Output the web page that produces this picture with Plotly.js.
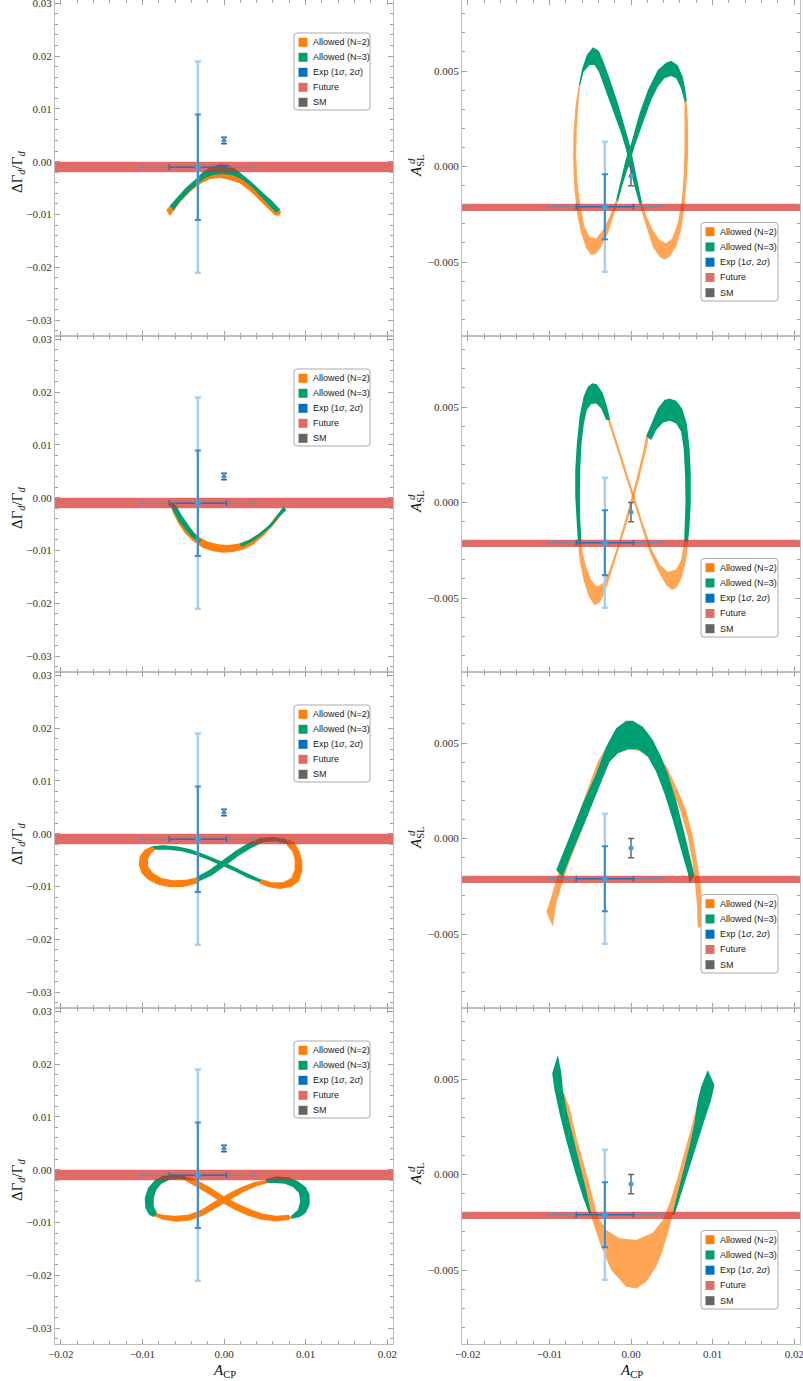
<!DOCTYPE html>
<html><head><meta charset="utf-8">
<script src="https://cdn.plot.ly/plotly-3.0.1.min.js"></script>
<style>body{margin:0;background:#fff}</style>
</head><body>
<div id="chart" style="width:803px;height:1381px"></div>
<script>
// ---------------- DATA ----------------
// Axis ranges
const xRange = [-0.0207, 0.0207];
const yRangeDG = [-0.0330, 0.0306];
const yRangeASL = [-0.00887, 0.00872];

// Experimental point (A_CP, ΔΓ/Γ) and (A_CP, A_SL), 1σ and 2σ half-widths
const expX = -0.0032, expErrX = [0.0035, 0.0070];
const expY_DG = -0.00105, expErrY_DG = [0.0100, 0.0200];
const expY_ASL = -0.0021, expErrY_ASL = [0.0017, 0.0034];
// SM prediction
const smX = 0.0, smY_DG = 0.0040, smErr_DG = 0.0006;
const smY_ASL = -0.0005, smErr_ASL = 0.0005;
// Future sensitivity bands
const future_DG = [-0.0020, 0.0000];
const future_ASL = [-0.00233, -0.00195];

// Allowed regions, panel 1 (row 1, ΔΓ/Γ)
const p1_orange = [[-0.00706,-0.00915],[-0.00604,-0.00726],[-0.00481,-0.00524],[-0.00359,-0.00379],[-0.00237,-0.00271],[-0.00114,-0.00208],[0.00008,-0.00189],[0.00131,-0.00221],[0.00253,-0.00316],[0.00375,-0.00461],[0.00498,-0.00631],[0.00600,-0.00802],[0.00702,-0.00947],[0.00673,-0.01023],[0.00620,-0.01010],[0.00518,-0.00865],[0.00416,-0.00701],[0.00314,-0.00549],[0.00192,-0.00410],[0.00069,-0.00347],[-0.00053,-0.00303],[-0.00175,-0.00335],[-0.00277,-0.00410],[-0.00400,-0.00549],[-0.00522,-0.00739],[-0.00624,-0.00947],[-0.00665,-0.01029]];
const p1_green = [[-0.00665,-0.00840],[-0.00563,-0.00663],[-0.00461,-0.00486],[-0.00359,-0.00347],[-0.00257,-0.00189],[-0.00155,-0.00095],[-0.00053,-0.00051],[0.00049,-0.00063],[0.00131,-0.00126],[0.00233,-0.00253],[0.00355,-0.00410],[0.00477,-0.00587],[0.00579,-0.00726],[0.00661,-0.00865],[0.00690,-0.00903],[0.00640,-0.00966],[0.00539,-0.00802],[0.00437,-0.00631],[0.00335,-0.00473],[0.00233,-0.00347],[0.00110,-0.00259],[-0.00012,-0.00234],[-0.00135,-0.00253],[-0.00237,-0.00316],[-0.00339,-0.00442],[-0.00441,-0.00587],[-0.00543,-0.00758],[-0.00616,-0.00915]];

// panel 2 (row 1, A_SL)
const p2_orange1 = [[-0.00639,0.00427],[-0.00680,0.00313],[-0.00704,0.00174],[-0.00708,0.00034],[-0.00696,-0.00106],[-0.00663,-0.00245],[-0.00610,-0.00350],[-0.00549,-0.00428],[-0.00488,-0.00463],[-0.00426,-0.00455],[-0.00365,-0.00420],[-0.00284,-0.00350],[-0.00202,-0.00245],[-0.00161,-0.00184],[-0.00182,-0.00175],[-0.00263,-0.00263],[-0.00345,-0.00332],[-0.00426,-0.00376],[-0.00508,-0.00367],[-0.00569,-0.00315],[-0.00618,-0.00210],[-0.00659,-0.00071],[-0.00671,0.00069],[-0.00663,0.00209],[-0.00643,0.00331],[-0.00622,0.00427]];
const p2_orange2 = [[0.00683,0.00340],[0.00700,0.00209],[0.00700,0.00069],[0.00683,-0.00071],[0.00655,-0.00210],[0.00614,-0.00332],[0.00553,-0.00420],[0.00471,-0.00472],[0.00410,-0.00486],[0.00349,-0.00472],[0.00267,-0.00420],[0.00186,-0.00315],[0.00137,-0.00245],[0.00104,-0.00196],[0.00137,-0.00193],[0.00194,-0.00263],[0.00267,-0.00332],[0.00349,-0.00385],[0.00430,-0.00402],[0.00504,-0.00376],[0.00573,-0.00298],[0.00622,-0.00175],[0.00647,-0.00036],[0.00655,0.00104],[0.00655,0.00226],[0.00655,0.00340]];
const p2_green1 = [[-0.00639,0.00427],[-0.00598,0.00514],[-0.00541,0.00584],[-0.00467,0.00624],[-0.00394,0.00606],[-0.00337,0.00549],[-0.00263,0.00462],[-0.00161,0.00331],[-0.00059,0.00182],[0.00002,0.00086],[0.00043,-0.00001],[0.00096,-0.00106],[0.00137,-0.00193],[0.00104,-0.00196],[0.00043,-0.00106],[-0.00018,-0.00001],[-0.00059,0.00086],[-0.00120,0.00174],[-0.00222,0.00296],[-0.00325,0.00418],[-0.00394,0.00497],[-0.00447,0.00532],[-0.00508,0.00532],[-0.00581,0.00497],[-0.00622,0.00427]];
const p2_green2 = [[-0.00182,-0.00175],[-0.00133,-0.00079],[-0.00067,0.00034],[0.00002,0.00121],[0.00104,0.00278],[0.00206,0.00400],[0.00328,0.00505],[0.00430,0.00544],[0.00492,0.00554],[0.00573,0.00531],[0.00634,0.00470],[0.00667,0.00400],[0.00683,0.00340],[0.00655,0.00340],[0.00614,0.00409],[0.00553,0.00462],[0.00492,0.00474],[0.00410,0.00462],[0.00328,0.00418],[0.00247,0.00348],[0.00145,0.00226],[0.00043,0.00104],[-0.00018,0.00017],[-0.00100,-0.00088],[-0.00161,-0.00184]];

// panel 3 (row 2, ΔΓ/Γ)
const p3_orange = [[-0.00657,-0.00133],[-0.00624,-0.00290],[-0.00563,-0.00480],[-0.00481,-0.00669],[-0.00379,-0.00827],[-0.00257,-0.00953],[-0.00135,-0.01016],[-0.00012,-0.01042],[0.00110,-0.01029],[0.00233,-0.00985],[0.00355,-0.00890],[0.00477,-0.00732],[0.00600,-0.00530],[0.00702,-0.00322],[0.00755,-0.00227],[0.00730,-0.00177],[0.00641,-0.00354],[0.00539,-0.00543],[0.00416,-0.00701],[0.00294,-0.00808],[0.00171,-0.00871],[0.00049,-0.00896],[-0.00073,-0.00884],[-0.00196,-0.00833],[-0.00298,-0.00751],[-0.00379,-0.00638],[-0.00461,-0.00492],[-0.00543,-0.00322],[-0.00604,-0.00133]];
const p3_green1 = [[-0.00632,-0.00088],[-0.00583,-0.00152],[-0.00522,-0.00322],[-0.00441,-0.00511],[-0.00359,-0.00682],[-0.00277,-0.00808],[-0.00298,-0.00859],[-0.00379,-0.00764],[-0.00469,-0.00619],[-0.00551,-0.00448],[-0.00624,-0.00259],[-0.00665,-0.00133]];
const p3_green2 = [[0.00192,-0.00871],[0.00314,-0.00795],[0.00437,-0.00669],[0.00559,-0.00511],[0.00641,-0.00354],[0.00702,-0.00215],[0.00730,-0.00164],[0.00763,-0.00240],[0.00681,-0.00354],[0.00579,-0.00543],[0.00457,-0.00713],[0.00335,-0.00840],[0.00212,-0.00934]];

// panel 4 (row 2, A_SL)
const p4_orange1 = [[-0.00651,-0.00205],[-0.00630,-0.00301],[-0.00581,-0.00406],[-0.00516,-0.00493],[-0.00447,-0.00537],[-0.00386,-0.00525],[-0.00324,-0.00476],[-0.00243,-0.00371],[-0.00141,-0.00231],[-0.00027,-0.00074],[0.00096,0.00118],[0.00186,0.00275],[0.00218,0.00345],[0.00186,0.00348],[0.00153,0.00275],[0.00063,0.00118],[-0.00059,-0.00074],[-0.00169,-0.00231],[-0.00271,-0.00362],[-0.00345,-0.00423],[-0.00418,-0.00440],[-0.00488,-0.00406],[-0.00549,-0.00336],[-0.00590,-0.00266],[-0.00606,-0.00205]];
const p4_orange2 = [[0.00700,-0.00205],[0.00675,-0.00301],[0.00626,-0.00388],[0.00561,-0.00444],[0.00504,-0.00458],[0.00430,-0.00432],[0.00328,-0.00353],[0.00226,-0.00258],[0.00104,-0.00092],[-0.00018,0.00074],[-0.00141,0.00240],[-0.00243,0.00380],[-0.00284,0.00432],[-0.00255,0.00432],[-0.00214,0.00380],[-0.00112,0.00240],[0.00010,0.00074],[0.00133,-0.00092],[0.00259,-0.00249],[0.00357,-0.00327],[0.00451,-0.00362],[0.00553,-0.00350],[0.00614,-0.00301],[0.00651,-0.00205]];
const p4_green1 = [[-0.00255,0.00432],[-0.00292,0.00502],[-0.00345,0.00572],[-0.00418,0.00620],[-0.00475,0.00624],[-0.00528,0.00606],[-0.00581,0.00554],[-0.00630,0.00449],[-0.00663,0.00310],[-0.00683,0.00170],[-0.00683,0.00031],[-0.00671,-0.00092],[-0.00651,-0.00205],[-0.00606,-0.00205],[-0.00622,-0.00092],[-0.00626,0.00031],[-0.00622,0.00170],[-0.00606,0.00310],[-0.00577,0.00414],[-0.00541,0.00484],[-0.00488,0.00516],[-0.00426,0.00519],[-0.00365,0.00493],[-0.00304,0.00432]];
const p4_green2 = [[0.00186,0.00348],[0.00247,0.00414],[0.00328,0.00493],[0.00410,0.00537],[0.00471,0.00545],[0.00553,0.00533],[0.00626,0.00493],[0.00683,0.00414],[0.00716,0.00292],[0.00732,0.00153],[0.00732,-0.00004],[0.00716,-0.00127],[0.00700,-0.00205],[0.00651,-0.00205],[0.00663,-0.00109],[0.00667,-0.00004],[0.00663,0.00135],[0.00647,0.00275],[0.00614,0.00371],[0.00553,0.00414],[0.00471,0.00428],[0.00390,0.00418],[0.00308,0.00380],[0.00247,0.00327]];

// panel 5 (row 3, ΔΓ/Γ)
const p5_orange1 = [[-0.00889,-0.00240],[-0.00971,-0.00303],[-0.01032,-0.00429],[-0.01044,-0.00587],[-0.01012,-0.00745],[-0.00930,-0.00871],[-0.00808,-0.00966],[-0.00665,-0.01016],[-0.00502,-0.01010],[-0.00339,-0.00947],[-0.00298,-0.00903],[-0.00318,-0.00821],[-0.00461,-0.00871],[-0.00624,-0.00884],[-0.00767,-0.00840],[-0.00869,-0.00745],[-0.00930,-0.00619],[-0.00930,-0.00480],[-0.00889,-0.00366],[-0.00828,-0.00290]];
const p5_orange2 = [[0.00783,-0.00101],[0.00865,-0.00177],[0.00926,-0.00335],[0.00959,-0.00524],[0.00959,-0.00713],[0.00918,-0.00903],[0.00824,-0.01010],[0.00681,-0.01048],[0.00539,-0.01010],[0.00428,-0.00934],[0.00457,-0.00859],[0.00579,-0.00922],[0.00722,-0.00922],[0.00824,-0.00840],[0.00865,-0.00682],[0.00865,-0.00480],[0.00836,-0.00335],[0.00771,-0.00227]];
const p5_green1 = [[-0.00889,-0.00240],[-0.00747,-0.00221],[-0.00583,-0.00240],[-0.00420,-0.00290],[-0.00257,-0.00379],[-0.00094,-0.00480],[0.00069,-0.00587],[0.00233,-0.00713],[0.00375,-0.00820],[0.00457,-0.00871],[0.00437,-0.00922],[0.00294,-0.00840],[0.00131,-0.00713],[-0.00033,-0.00600],[-0.00196,-0.00492],[-0.00359,-0.00398],[-0.00522,-0.00335],[-0.00685,-0.00303],[-0.00828,-0.00303]];
const p5_green2 = [[-0.00318,-0.00909],[-0.00155,-0.00795],[0.00008,-0.00619],[0.00171,-0.00429],[0.00335,-0.00271],[0.00477,-0.00164],[0.00641,-0.00145],[0.00796,-0.00208],[0.00763,-0.00101],[0.00600,-0.00063],[0.00457,-0.00076],[0.00314,-0.00164],[0.00151,-0.00316],[-0.00012,-0.00492],[-0.00175,-0.00682],[-0.00339,-0.00821]];

// panel 6 (row 3, A_SL)
const p6_orange = [[-0.01038,-0.00383],[-0.00989,-0.00322],[-0.00916,-0.00217],[-0.00800,-0.00060],[-0.00660,0.00110],[-0.00530,0.00260],[-0.00410,0.00400],[-0.00304,0.00480],[-0.00182,0.00533],[-0.00018,0.00542],[0.00145,0.00516],[0.00288,0.00455],[0.00439,0.00376],[0.00553,0.00271],[0.00675,0.00149],[0.00757,0.00010],[0.00810,-0.00113],[0.00847,-0.00217],[0.00871,-0.00340],[0.00887,-0.00462],[0.00818,-0.00465],[0.00806,-0.00340],[0.00781,-0.00217],[0.00749,-0.00113],[0.00696,0.00010],[0.00602,0.00149],[0.00492,0.00271],[0.00390,0.00367],[0.00267,0.00428],[0.00145,0.00455],[-0.00018,0.00467],[-0.00161,0.00446],[-0.00263,0.00402],[-0.00365,0.00307],[-0.00488,0.00167],[-0.00630,0.00010],[-0.00761,-0.00130],[-0.00855,-0.00252],[-0.00916,-0.00340],[-0.00957,-0.00462]];
const p6_green = [[-0.00916,-0.00165],[-0.00753,0.00010],[-0.00590,0.00184],[-0.00426,0.00341],[-0.00304,0.00481],[-0.00182,0.00577],[-0.00059,0.00617],[0.00022,0.00617],[0.00145,0.00586],[0.00267,0.00516],[0.00369,0.00428],[0.00451,0.00341],[0.00553,0.00201],[0.00655,0.00027],[0.00736,-0.00113],[0.00777,-0.00191],[0.00716,-0.00235],[0.00696,-0.00182],[0.00614,-0.00060],[0.00512,0.00097],[0.00410,0.00236],[0.00308,0.00350],[0.00206,0.00428],[0.00084,0.00467],[-0.00039,0.00467],[-0.00161,0.00446],[-0.00263,0.00402],[-0.00330,0.00330],[-0.00440,0.00210],[-0.00580,0.00070],[-0.00720,-0.00070],[-0.00840,-0.00200]];

// panel 7 (row 4, ΔΓ/Γ)
const p7_orange1 = [[-0.00502,-0.00114],[-0.00339,-0.00189],[-0.00175,-0.00328],[-0.00012,-0.00492],[0.00151,-0.00631],[0.00314,-0.00745],[0.00477,-0.00833],[0.00641,-0.00871],[0.00796,-0.00852],[0.00824,-0.00896],[0.00804,-0.00947],[0.00641,-0.00979],[0.00457,-0.00947],[0.00294,-0.00871],[0.00131,-0.00758],[-0.00033,-0.00619],[-0.00196,-0.00455],[-0.00359,-0.00303],[-0.00481,-0.00202]];
const p7_orange2 = [[-0.00869,-0.00871],[-0.00747,-0.00947],[-0.00583,-0.00985],[-0.00420,-0.00960],[-0.00257,-0.00871],[-0.00094,-0.00726],[0.00069,-0.00568],[0.00233,-0.00429],[0.00396,-0.00316],[0.00539,-0.00253],[0.00539,-0.00189],[0.00375,-0.00234],[0.00212,-0.00328],[0.00049,-0.00455],[-0.00114,-0.00600],[-0.00277,-0.00758],[-0.00441,-0.00852],[-0.00604,-0.00871],[-0.00747,-0.00852],[-0.00836,-0.00821]];
const p7_green1 = [[-0.00481,-0.00114],[-0.00624,-0.00076],[-0.00747,-0.00114],[-0.00849,-0.00202],[-0.00930,-0.00347],[-0.00971,-0.00537],[-0.00963,-0.00726],[-0.00918,-0.00852],[-0.00861,-0.00896],[-0.00820,-0.00821],[-0.00861,-0.00694],[-0.00861,-0.00537],[-0.00828,-0.00379],[-0.00767,-0.00265],[-0.00665,-0.00189],[-0.00543,-0.00177],[-0.00461,-0.00202]];
const p7_green2 = [[0.00510,-0.00177],[0.00641,-0.00126],[0.00783,-0.00145],[0.00906,-0.00221],[0.01000,-0.00328],[0.01049,-0.00473],[0.01049,-0.00663],[0.01000,-0.00821],[0.00926,-0.00896],[0.00824,-0.00934],[0.00824,-0.00871],[0.00906,-0.00758],[0.00934,-0.00600],[0.00918,-0.00442],[0.00845,-0.00328],[0.00743,-0.00265],[0.00620,-0.00253],[0.00526,-0.00253]];

// panel 8 (row 4, A_SL)
const p8_orange = [[-0.00916,0.00442],[-0.00834,0.00303],[-0.00732,0.00128],[-0.00630,-0.00029],[-0.00528,-0.00168],[-0.00447,-0.00273],[-0.00365,-0.00378],[-0.00243,-0.00500],[-0.00059,-0.00587],[0.00063,-0.00596],[0.00186,-0.00561],[0.00308,-0.00483],[0.00390,-0.00395],[0.00463,-0.00290],[0.00532,-0.00168],[0.00634,-0.00029],[0.00736,0.00128],[0.00818,0.00268],[0.00871,0.00372],[0.00818,0.00381],[0.00757,0.00276],[0.00675,0.00146],[0.00573,-0.00011],[0.00471,-0.00151],[0.00390,-0.00238],[0.00267,-0.00305],[0.00063,-0.00343],[-0.00141,-0.00334],[-0.00304,-0.00290],[-0.00406,-0.00221],[-0.00467,-0.00116],[-0.00557,0.00024],[-0.00659,0.00180],[-0.00745,0.00338],[-0.00814,0.00425]];
const p8_green1 = [[-0.00896,0.00626],[-0.00965,0.00530],[-0.00936,0.00442],[-0.00875,0.00320],[-0.00794,0.00180],[-0.00692,0.00024],[-0.00590,-0.00116],[-0.00508,-0.00212],[-0.00488,-0.00203],[-0.00549,-0.00081],[-0.00630,0.00058],[-0.00712,0.00198],[-0.00785,0.00329],[-0.00834,0.00442],[-0.00855,0.00538]];
const p8_green2 = [[0.00940,0.00547],[0.00859,0.00460],[0.00818,0.00390],[0.00777,0.00268],[0.00716,0.00146],[0.00634,0.00006],[0.00553,-0.00116],[0.00504,-0.00212],[0.00532,-0.00212],[0.00614,-0.00099],[0.00708,0.00024],[0.00798,0.00146],[0.00888,0.00268],[0.00981,0.00390],[0.01022,0.00469]];

// Legend labels
const legendLabels = ['Allowed (N=2)', 'Allowed (N=3)', 'Exp (1<i>σ</i>, 2<i>σ</i>)', 'Future', 'SM'];

// ---------------- STYLE ----------------
const ORANGE = 'rgb(255,127,14)';
const ORANGE_DOT = 'rgba(255,127,14,0.70)';
const GREEN = 'rgb(0,158,115)';
const FUTURE = 'rgba(212,45,38,0.70)';
const legendColors = ['rgb(255,127,14)', 'rgb(0,158,115)', 'rgb(0,114,189)', 'rgb(225,108,103)', 'rgb(100,100,100)'];
const SERIF = 'Liberation Serif, Times New Roman, serif';

const panels = [
  {regions: [[p1_orange, ORANGE], [p1_green, GREEN]], kind: 'DG'},
  {regions: [[p2_orange1, ORANGE_DOT], [p2_orange2, ORANGE_DOT], [p2_green1, GREEN], [p2_green2, GREEN]], kind: 'ASL'},
  {regions: [[p3_orange, ORANGE], [p3_green1, GREEN], [p3_green2, GREEN]], kind: 'DG'},
  {regions: [[p4_orange1, ORANGE_DOT], [p4_orange2, ORANGE_DOT], [p4_green1, GREEN], [p4_green2, GREEN]], kind: 'ASL'},
  {regions: [[p5_orange1, ORANGE], [p5_orange2, ORANGE], [p5_green1, GREEN], [p5_green2, GREEN]], kind: 'DG'},
  {regions: [[p6_orange, ORANGE_DOT], [p6_green, GREEN]], kind: 'ASL'},
  {regions: [[p7_orange1, ORANGE], [p7_orange2, ORANGE], [p7_green1, GREEN], [p7_green2, GREEN]], kind: 'DG'},
  {regions: [[p8_orange, ORANGE_DOT], [p8_green1, GREEN], [p8_green2, GREEN]], kind: 'ASL'}
];

const W = 803, PH = 1344;
const traces = [];
const layout = {
  width: 803, height: 1381,
  margin: {l: 0, r: 0, t: 0, b: 1381 - PH},
  paper_bgcolor: '#fff', plot_bgcolor: '#fff',
  showlegend: false, shapes: [], annotations: []
};

const axBase = {
  showgrid: false, zeroline: false, showline: true, linecolor: '#bdbdbd', linewidth: 1,
  mirror: 'allticks', ticks: 'inside', ticklen: 5, tickwidth: 1, tickcolor: '#a0a0a0',
  ticklabeloverflow: 'allow',
  tickfont: {family: SERIF, size: 11, color: '#333'}
};

const X = v => v / W, Y = v => 1 - v / PH;

panels.forEach((p, k) => {
  const r = Math.floor(k / 2), c = k % 2, idx = k + 1;
  const sfx = idx === 1 ? '' : String(idx);
  const xa = 'x' + sfx, ya = 'y' + sfx;
  const isDG = p.kind === 'DG';
  layout['xaxis' + sfx] = Object.assign({}, axBase, {
    domain: c ? [462 / W, 800 / W] : [55 / W, 393 / W],
    range: xRange, anchor: ya, dtick: 0.01, tick0: 0, tickformat: '.2f',
    showticklabels: r === 3,
    minor: {ticks: 'inside', ticklen: 3, tickcolor: '#a0a0a0', dtick: 0.002, tick0: 0}
  });
  layout['yaxis' + sfx] = Object.assign({}, axBase, {
    domain: [1 - (r + 1) / 4, 1 - r / 4],
    range: isDG ? yRangeDG : yRangeASL, anchor: xa,
    dtick: isDG ? 0.01 : 0.005, tick0: 0, tickformat: isDG ? '.2f' : '.3f',
    minor: {ticks: 'inside', ticklen: 3, tickcolor: '#a0a0a0', dtick: isDG ? 0.002 : 0.001, tick0: 0}
  });

  // allowed regions
  p.regions.forEach(([pts, col]) => {
    traces.push({
      type: 'scatter', mode: 'lines', xaxis: xa, yaxis: ya,
      x: pts.map(q => q[0]), y: pts.map(q => q[1]),
      fill: 'toself', fillcolor: col, line: {width: 0, color: col},
      hoverinfo: 'skip', showlegend: false
    });
  });

  // future band (semi-transparent, above allowed regions)
  const fb = isDG ? future_DG : future_ASL;
  traces.push({
    type: 'scatter', mode: 'lines', xaxis: xa, yaxis: ya,
    x: [xRange[0], xRange[1], xRange[1], xRange[0]],
    y: [fb[0], fb[0], fb[1], fb[1]],
    fill: 'toself', fillcolor: FUTURE, line: {width: 0, color: FUTURE},
    hoverinfo: 'skip', showlegend: false
  });

  const ey = isDG ? expY_DG : expY_ASL;
  const eyErr = isDG ? expErrY_DG : expErrY_ASL;
  // Exp 2σ
  traces.push({
    type: 'scatter', mode: 'markers', xaxis: xa, yaxis: ya,
    x: [expX], y: [ey], marker: {size: 1, color: 'rgba(0,0,0,0)'},
    error_x: {type: 'data', array: [expErrX[1]], color: '#6f89a6', thickness: 1, width: 3},
    error_y: {type: 'data', array: [eyErr[1]], color: '#a8d0ec', thickness: 2.5, width: 3},
    hoverinfo: 'skip', showlegend: false
  });
  // Exp 1σ
  traces.push({
    type: 'scatter', mode: 'markers', xaxis: xa, yaxis: ya,
    x: [expX], y: [ey], marker: {size: 6, color: '#4a9bd6'},
    error_x: {type: 'data', array: [expErrX[0]], color: '#2f6fae', thickness: 1.6, width: 3},
    error_y: {type: 'data', array: [eyErr[0]], color: '#3a89c9', thickness: 2, width: 3},
    hoverinfo: 'skip', showlegend: false
  });
  // SM
  traces.push({
    type: 'scatter', mode: 'markers', xaxis: xa, yaxis: ya,
    x: [smX], y: [isDG ? smY_DG : smY_ASL], marker: {size: 5, color: '#4a9bd6'},
    error_y: {type: 'data', array: [isDG ? smErr_DG : smErr_ASL], color: '#666', thickness: 1.5, width: 3},
    hoverinfo: 'skip', showlegend: false
  });

  // y-axis titles
  if (isDG) {
    layout.annotations.push({
      xref: 'paper', yref: 'paper', x: X(18), y: Y(172 + 336 * r),
      text: 'ΔΓ<sub><i>d</i></sub>/Γ<sub><i>d</i></sub>',
      textangle: -90, showarrow: false, xanchor: 'center', yanchor: 'middle',
      font: {family: SERIF, size: 15, color: '#111'}
    });
  } else {
    layout.annotations.push({
      xref: 'paper', yref: 'paper', x: X(417), y: Y(166 + 336 * r),
      text: '<i>A</i><sub>SL</sub>',
      textangle: -90, showarrow: false, xanchor: 'center', yanchor: 'middle',
      font: {family: SERIF, size: 15, color: '#111'}
    });
    layout.annotations.push({
      xref: 'paper', yref: 'paper', x: X(410.5), y: Y(161.5 + 336 * r),
      text: '<i>d</i>',
      textangle: -90, showarrow: false, xanchor: 'center', yanchor: 'middle',
      font: {family: SERIF, size: 11, color: '#111'}
    });
  }

  // x-axis title for bottom row
  if (r === 3) {
    layout.annotations.push({
      xref: 'paper', yref: 'paper', x: X(c ? 631 : 224), y: Y(1371),
      text: '<i>A</i><sub>CP</sub>', showarrow: false, xanchor: 'center', yanchor: 'middle',
      font: {family: SERIF, size: 15, color: '#111'}
    });
  }

  // legend box (drawn by hand to match item spacing)
  const bx0 = c ? 701 : 294, bx1 = c ? 778 : 370;
  const by0 = (c ? 222.5 : 33) + 336 * r, by1 = (c ? 301 : 110) + 336 * r;
  const firstY = (c ? 231.7 : 42.3) + 336 * r, step = c ? 15.25 : 15;
  const rad = 3;
  const path = `M ${X(bx0 + rad)} ${Y(by0)} L ${X(bx1 - rad)} ${Y(by0)} Q ${X(bx1)} ${Y(by0)} ${X(bx1)} ${Y(by0 + rad)} ` +
    `L ${X(bx1)} ${Y(by1 - rad)} Q ${X(bx1)} ${Y(by1)} ${X(bx1 - rad)} ${Y(by1)} L ${X(bx0 + rad)} ${Y(by1)} ` +
    `Q ${X(bx0)} ${Y(by1)} ${X(bx0)} ${Y(by1 - rad)} L ${X(bx0)} ${Y(by0 + rad)} Q ${X(bx0)} ${Y(by0)} ${X(bx0 + rad)} ${Y(by0)} Z`;
  layout.shapes.push({type: 'path', xref: 'paper', yref: 'paper', path: path,
    fillcolor: '#fff', line: {color: '#a9a9a9', width: 1}, layer: 'above'});
  legendLabels.forEach((lab, i) => {
    const cy = firstY + step * i;
    const sx0 = bx0 + 4.5, sx1 = sx0 + 9;
    layout.shapes.push({type: 'rect', xref: 'paper', yref: 'paper',
      x0: X(sx0), x1: X(sx1), y0: Y(cy - 4.5), y1: Y(cy + 4.5),
      fillcolor: legendColors[i], line: {width: 0}, layer: 'above'});
    layout.annotations.push({xref: 'paper', yref: 'paper', x: X(sx1 + 3), y: Y(cy),
      text: lab, showarrow: false, xanchor: 'left', yanchor: 'middle',
      font: {family: 'Liberation Sans, Arial, sans-serif', size: 9, color: '#222'}});
  });
});

Plotly.newPlot('chart', traces, layout, {staticPlot: true, displayModeBar: false});
</script>
</body></html>
